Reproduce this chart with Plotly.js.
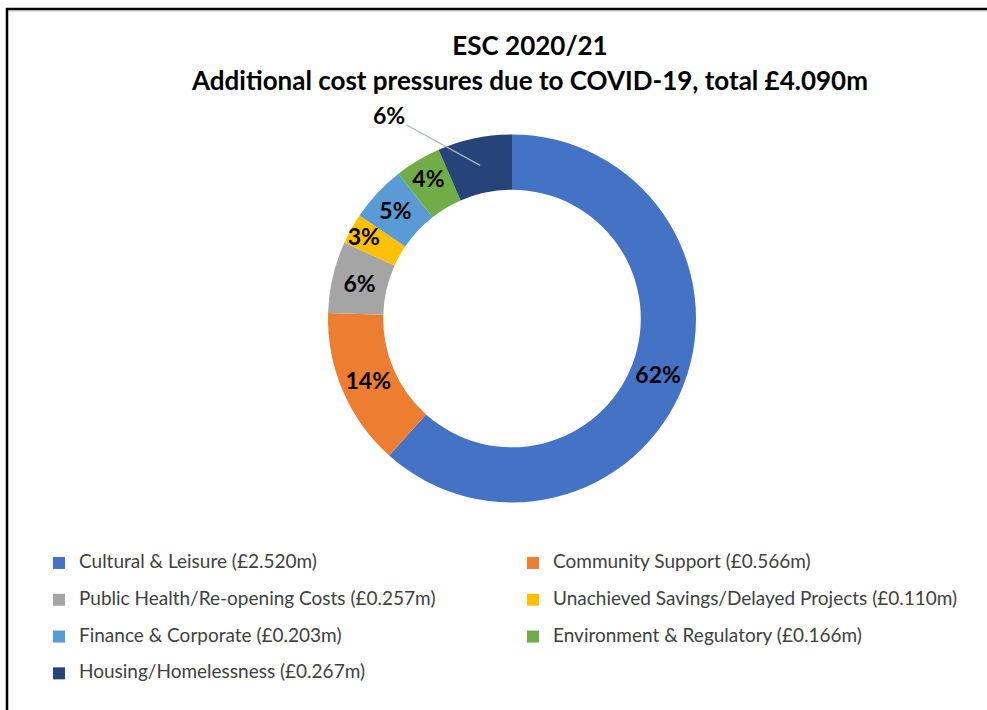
<!DOCTYPE html>
<html>
<head>
<meta charset="utf-8">
<script src="https://cdn.plot.ly/plotly-3.0.1.min.js"></script>
<style>
  html, body { margin: 0; padding: 0; background: #ffffff; }
  #chart { width: 987px; height: 710px; }
</style>
</head>
<body>
<div id="chart"></div>
<script>
// ---- data ----
const categories = [
  "Cultural & Leisure",
  "Community Support",
  "Public Health/Re-opening Costs",
  "Unachieved Savings/Delayed Projects",
  "Finance & Corporate",
  "Environment & Regulatory",
  "Housing/Homelessness"
];
const valuesMillions = [2.520, 0.566, 0.257, 0.110, 0.203, 0.166, 0.267];
const percentLabels = ["62%", "14%", "6%", "3%", "5%", "4%", "6%"];
const sliceColors = ["#4472C4", "#ED7D31", "#A5A5A5", "#FFC000", "#5B9BD5", "#70AD47", "#264478"];
const titleLines = ["ESC 2020/21", "Additional cost pressures due to COVID-19, total £4.090m"];

// legend labels "Name (£x.xxxm)" – a blank second line gives Excel-like row spacing
const legendLabels = categories.map((c, i) =>
  '<span style="font-size:19px">' + c + ' (£' + valuesMillions[i].toFixed(3) + 'm)</span><br>\u00A0');

const last = categories.length - 1;
// the last slice's label sits outside with a leader line (drawn as an annotation below)
const textPositions = categories.map((c, i) => i === last ? "none" : "inside");

const W = 987, H = 710;
const domX = [328 / W, 696 / W];
const domY = [(H - 502.7) / H, (H - 134.3) / H];

const trace = {
  type: "pie",
  labels: legendLabels,
  values: valuesMillions,
  text: percentLabels,
  textinfo: "text",
  textposition: textPositions,
  insidetextorientation: "horizontal",
  hole: 0.7,
  sort: false,
  direction: "clockwise",
  rotation: 0,
  marker: { colors: sliceColors, line: { color: "#ffffff", width: 0 } },
  textfont: { family: "Lato, 'DejaVu Sans', sans-serif", size: 23, color: "#000000", weight: "bold" },
  domain: { x: domX, y: domY },
  hoverinfo: "none"
};

// leader-line anchor: middle of the last slice, derived from the data
const total = valuesMillions.reduce((a, b) => a + b, 0);
const before = valuesMillions.slice(0, last).reduce((a, b) => a + b, 0);
const midFrac = (before + valuesMillions[last] / 2) / total;
const ang = midFrac * 2 * Math.PI;            // clockwise from 12 o'clock
const cxPx = (domX[0] + domX[1]) / 2 * W;
const cyPx = (1 - (domY[0] + domY[1]) / 2) * H;
const rPx = (domX[1] - domX[0]) * W / 2;
const anchorPx = [cxPx + Math.sin(ang) * rPx * 0.85, cyPx - Math.cos(ang) * rPx * 0.85];

const layout = {
  width: W,
  height: H,
  margin: { l: 0, r: 0, t: 0, b: 0 },
  paper_bgcolor: "#ffffff",
  font: { family: "Lato, 'DejaVu Sans', sans-serif", color: "#404040" },
  uniformtext: { mode: "show", minsize: 23 },
  title: {
    text: '<span style="font-size:26px">' + titleLines[0] + '</span><br><span style="font-size:26px">' + titleLines[1] + '</span>',
    font: { family: "Lato, 'DejaVu Sans', sans-serif", size: 27, color: "#000000", weight: "bold" },
    x: 530 / W,
    xanchor: "center",
    xref: "paper",
    y: 1 - 55 / H,
    yref: "container",
    yanchor: "top"
  },
  showlegend: true,
  legend: {
    orientation: "h",
    x: 39 / W,
    xanchor: "left",
    y: 1 - 548 / H,
    yanchor: "top",
    entrywidth: 429,
    entrywidthmode: "pixels",
    valign: "top",
    font: { family: "Lato, 'DejaVu Sans', sans-serif", size: 13, color: "#404040" },
    bgcolor: "rgba(0,0,0,0)",
    traceorder: "normal"
  },
  annotations: [{
    xref: "paper", yref: "paper",
    x: anchorPx[0] / W, y: 1 - anchorPx[1] / H,
    text: percentLabels[last],
    showarrow: true,
    arrowhead: 0,
    arrowwidth: 1.2,
    arrowcolor: "#a9b7c9",
    ax: -91, ay: -50,
    standoff: 0,
    font: { family: "Lato, 'DejaVu Sans', sans-serif", size: 23, color: "#000000", weight: "bold" }
  }],
  shapes: [
    { type: "line", xref: "paper", yref: "paper", x0: 6 / W, x1: 1, y0: 1 - 9 / H, y1: 1 - 9 / H,
      line: { color: "#000000", width: 2.5 } },
    { type: "line", xref: "paper", yref: "paper", x0: 8 / W, x1: 1, y0: 1 - 11 / H, y1: 1 - 11 / H,
      line: { color: "#bfbfbf", width: 1 } },
    { type: "line", xref: "paper", yref: "paper", x0: 7 / W, x1: 7 / W, y0: 0, y1: 1 - 8 / H,
      line: { color: "#000000", width: 2.5 } }
  ]
};

Plotly.newPlot("chart", [trace], layout, { displayModeBar: false, staticPlot: true });
</script>
</body>
</html>
